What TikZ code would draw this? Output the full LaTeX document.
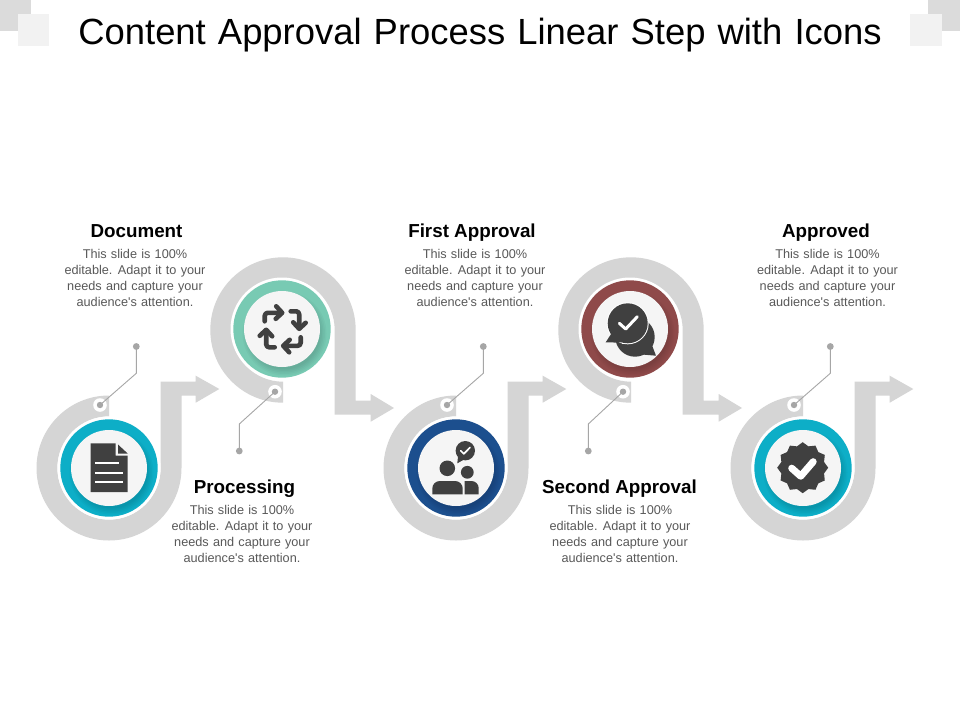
\documentclass[tikz,border=0pt]{standalone}
\usepackage{fontspec}
\setmainfont{Liberation Sans}
\newfontfamily\titlefont[WordSpace=1.19]{Liberation Sans}
\newfontfamily\copyfont[WordSpace=1.2]{Liberation Sans}
\definecolor{bandgray}{HTML}{D5D5D5}
\definecolor{dotgray}{HTML}{A6A6A6}
\definecolor{icondark}{HTML}{404040}
\definecolor{innerlight}{HTML}{F5F5F5}
\definecolor{tealring}{HTML}{0DAEC7}
\definecolor{mintring}{HTML}{78CAB3}
\definecolor{navyring}{HTML}{1C4F8E}
\definecolor{maroonring}{HTML}{8F4A4A}
\definecolor{bodygray}{HTML}{595959}
\tikzset{
  band/.style={fill=bandgray,draw=none},
  icon/.style={fill=icondark,draw=none},
  leader/.style={draw=dotgray,line width=0.9pt},
  leaddot/.style={fill=dotgray,draw=none},
  headtext/.style={font=\fontsize{18.8}{20}\selectfont\bfseries,text=black,inner sep=0pt,anchor=base},
  bodytext/.style={font=\copyfont\fontsize{12.7}{16}\selectfont,text=bodygray,align=center,inner sep=0pt,anchor=north},
  whitemark/.style={draw=white,line width=3pt,line cap=round,line join=round},
  arrowstroke/.style={draw=icondark,line width=4.6pt,line cap=round,line join=round}
}
\newcommand{\bandlow}{%
  \fill[band] (0,-72.5) arc[start angle=90,end angle=360,radius=72.5pt]
    -- (72.5,-72.5) -- (86.7,-72.5) -- (86.7,-65.3) -- (110.3,-79) -- (86.7,-92.3)
    -- (86.7,-86.3) -- (51.7,-86.3) -- (51.7,0)
    arc[start angle=360,end angle=90,radius=51.7pt] -- cycle;}
\newcommand{\bandhigh}{%
  \fill[band] (0,72.7) arc[start angle=270,end angle=0,radius=72.7pt]
    -- (72.7,70.7) -- (87.7,70.7) -- (87.7,64) -- (111,78) -- (87.7,91.7)
    -- (87.7,84.7) -- (51.7,84.7) -- (51.7,0)
    arc[start angle=0,end angle=270,radius=51.7pt] -- cycle;}
\newcommand{\ringdisc}[1]{%
  \fill[white] (0,0) circle[radius=51.5pt];
  \fill[#1] (0,0) circle[radius=48.7pt];
  \begin{scope}
    \clip (0,0) circle[radius=48.7pt];
    \foreach \rr in {36,37.5,39,40.5,42}{\fill[black,opacity=.028] (2.5,4.5) circle[radius=\rr pt];}
  \end{scope}
  \fill[innerlight] (0,0) circle[radius=38pt];}
\begin{document}
\begin{tikzpicture}[x=1pt,y=-1pt]
\useasboundingbox (0,0) rectangle (960,720);
\fill[white] (0,0) rectangle (960,720);
\fill[bandgray!85!white] (0,0) rectangle (31,31);
\fill[bandgray!85!white] (928,0) rectangle (960,31);
\fill[innerlight!90!bandgray] (18,14) rectangle (49,46);
\fill[innerlight!90!bandgray] (910,14) rectangle (942,46);
\node[font=\titlefont\fontsize{36.4}{40}\selectfont,text=black,inner sep=0pt] (title) at (480,35) {Content Approval Process Linear Step with Icons};
\begin{scope}[shift={(109,468)}]\bandlow\end{scope}
\begin{scope}[shift={(283,330)}]\bandhigh\end{scope}
\begin{scope}[shift={(456,468)}]\bandlow\end{scope}
\begin{scope}[shift={(631,330)}]\bandhigh\end{scope}
\begin{scope}[shift={(803,468)}]\bandlow\end{scope}
\begin{scope}[shift={(109,468)}]\ringdisc{tealring}\end{scope}
\begin{scope}[shift={(282,329)}]\ringdisc{mintring}\end{scope}
\begin{scope}[shift={(456,468)}]\ringdisc{navyring}\end{scope}
\begin{scope}[shift={(630,329)}]\ringdisc{maroonring}\end{scope}
\begin{scope}[shift={(803,468)}]\ringdisc{tealring}\end{scope}
\foreach \nm/\dx/\dy/\kx/\ky/\ex/\ey in {
  a/100/405/136.3/373.3/136.3/346.5,
  c/447/405/483.3/373.3/483.3/346.5,
  e/794/405/830.3/373.3/830.3/346.5,
  b/275/391.7/239.3/424/239.3/451,
  d/623/391.7/588.3/424/588.3/451}{
  \fill[white] (\dx,\dy) circle[radius=6.8pt];
  \fill[leaddot] (\dx,\dy) circle[radius=3.2pt];
  \coordinate (\nm start) at (\dx,\dy);
  \coordinate (\nm knee) at (\kx,\ky);
  \coordinate (\nm end) at (\ex,\ey);
  \draw[leader] (\nm start) -- (\nm knee) -- (\nm end);
  \fill[leaddot] (\nm end) circle[radius=3.4pt];
}
% document icon
\fill[icon] (90.7,443.3) -- (115.7,443.3) -- (115.7,455.5) -- (127.7,455.5) -- (127.7,492) -- (90.7,492) -- cycle;
\fill[icon] (118,444.5) -- (127.7,453.5) -- (118,453.5) -- cycle;
\draw[white,line width=1.7pt] (95.3,463.3) -- (118.5,463.3);
\draw[white,line width=1.7pt] (95.3,473) -- (123.3,473);
\draw[white,line width=1.7pt] (95.3,482.3) -- (123.3,482.3);
% cycle icon
\begin{scope}[shift={(282.7,329.3)}]
\foreach \ang in {0,-90,-180,-270}{
  \begin{scope}[rotate=\ang]
    \draw[arrowstroke,rounded corners=3pt] (-18,-8) -- (-18,-16.5) -- (-1.5,-16.5);
    \draw[arrowstroke] (-6.5,-23) -- (-0.5,-16.5) -- (-7,-10.5);
  \end{scope}
}
\end{scope}
% people icon
\fill[icon] (447.3,468.3) circle[radius=7.8pt];
\fill[icon] (467.3,472.3) circle[radius=6.4pt];
\fill[icon] (432.3,494.3) -- (432.3,488.5) arc[start angle=180,end angle=90,radius=7.5pt]
  -- (455.2,481) arc[start angle=90,end angle=0,radius=7.5pt] -- (462.7,494.3) -- cycle;
\fill[icon] (464.7,494.3) -- (464.7,481) -- (471.5,481) arc[start angle=90,end angle=0,radius=7.2pt] -- (478.7,494.3) -- cycle;
\fill[icon] (465.3,450.7) circle[radius=9.7pt];
\fill[icon] (457.3,463.3) -- (458.5,452) -- (465,459) -- cycle;
\draw[whitemark,line width=1.7pt] (460.7,450.7) -- (463.8,453.8) -- (470,447.5);
% chat icon
\fill[icon] (635,337) circle[radius=19.7pt];
\fill[icon] (656,355.7) -- (650,340) -- (636,354) -- cycle;
\fill[white] (627.7,323.3) circle[radius=21pt];
\fill[white] (622,344) -- (640,339) -- (625,330) -- cycle;
\fill[icon] (627.7,323.3) circle[radius=20pt];
\fill[icon] (605.7,342.3) -- (613,331) -- (624,342) -- (618,342.6) -- cycle;
\draw[whitemark] (619.3,323.3) -- (625.7,329) -- (637.3,316.7);
% badge icon
\begin{scope}[shift={(802.7,467.7)}]
\fill[icon] plot[samples at={0,15,...,345}] ({(23.8+1.7*cos(12*\x))*cos(\x)},{(23.8+1.7*cos(12*\x))*sin(\x)}) -- cycle;
\draw[whitemark,line width=7pt] (-11,0.5) -- (-2,8.5) -- (10.5,-6);
\end{scope}
% text
\node[headtext] (h1) at (136.5,237) {Document};
\node[bodytext] (t1) at (135,249.5) {This slide is 100\%\\editable. Adapt it to your\\needs and capture your\\audience's attention.};
\node[headtext] (h2) at (244.5,493) {Processing};
\node[bodytext] (t2) at (242,505.5) {This slide is 100\%\\editable. Adapt it to your\\needs and capture your\\audience's attention.};
\node[headtext] (h3) at (472,237) {First Approval};
\node[bodytext] (t3) at (475,249.5) {This slide is 100\%\\editable. Adapt it to your\\needs and capture your\\audience's attention.};
\node[headtext] (h4) at (619.5,493) {Second Approval};
\node[bodytext] (t4) at (620,505.5) {This slide is 100\%\\editable. Adapt it to your\\needs and capture your\\audience's attention.};
\node[headtext] (h5) at (826,237) {Approved};
\node[bodytext] (t5) at (827.5,249.5) {This slide is 100\%\\editable. Adapt it to your\\needs and capture your\\audience's attention.};
\end{tikzpicture}
\end{document}
